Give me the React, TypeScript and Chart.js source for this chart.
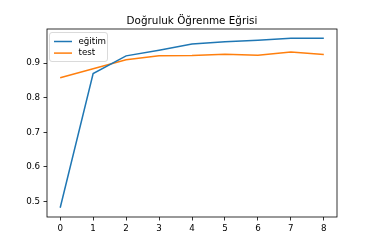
import React, { useEffect, useRef } from "react";
import { Chart, registerables } from "chart.js";

Chart.register(...registerables);

const epochs = [0, 1, 2, 3, 4, 5, 6, 7, 8];
const trainAcc = [0.482, 0.87, 0.921, 0.937, 0.955, 0.962, 0.966, 0.972, 0.972];
const testAcc = [0.858, 0.884, 0.91, 0.921, 0.922, 0.926, 0.923, 0.932, 0.925];
const xTicks = [0, 1, 2, 3, 4, 5, 6, 7, 8];
const yTicks = [0.5, 0.6, 0.7, 0.8, 0.9];
const seriesNames = ["eğitim", "test"];
const titleText = "Doğruluk Öğrenme Eğrisi";

const FONT = "'DejaVu Sans', sans-serif";
const COLORS = ["#1f77b4", "#ff7f0e"];

const framePlugin = {
  id: "frame",
  afterDraw(chart: any) {
    const { ctx, chartArea: a } = chart;
    ctx.save();
    ctx.strokeStyle = "#000";
    ctx.lineWidth = 0.8;
    ctx.strokeRect(a.left, a.top, a.right - a.left, a.bottom - a.top);
    // title
    ctx.fillStyle = "#000";
    ctx.font = `10.4px ${FONT}`;
    ctx.textAlign = "center";
    ctx.textBaseline = "alphabetic";
    ctx.fillText(titleText, (a.left + a.right) / 2, a.top - 5.5);
    // legend
    const lx = a.left + 2.5, ly = a.top + 3.5, lw = 58, lh = 29;
    ctx.beginPath();
    const r = 2.5;
    ctx.moveTo(lx + r, ly);
    ctx.lineTo(lx + lw - r, ly);
    ctx.quadraticCurveTo(lx + lw, ly, lx + lw, ly + r);
    ctx.lineTo(lx + lw, ly + lh - r);
    ctx.quadraticCurveTo(lx + lw, ly + lh, lx + lw - r, ly + lh);
    ctx.lineTo(lx + r, ly + lh);
    ctx.quadraticCurveTo(lx, ly + lh, lx, ly + lh - r);
    ctx.lineTo(lx, ly + r);
    ctx.quadraticCurveTo(lx, ly, lx + r, ly);
    ctx.closePath();
    ctx.fillStyle = "rgba(255,255,255,0.8)";
    ctx.fill();
    ctx.strokeStyle = "#d0d0d0";
    ctx.lineWidth = 0.8;
    ctx.stroke();
    ctx.font = `8.7px ${FONT}`;
    ctx.textBaseline = "middle";
    ctx.textAlign = "left";
    chart.data.datasets.forEach((ds: any, i: number) => {
      const y = ly + 9 + i * 11.6;
      ctx.strokeStyle = ds.borderColor;
      ctx.lineWidth = 1.5;
      ctx.beginPath();
      ctx.moveTo(lx + 4.5, y);
      ctx.lineTo(lx + 22.5, y);
      ctx.stroke();
      ctx.fillStyle = "#000";
      ctx.fillText(ds.label, lx + 29, y);
    });
    ctx.restore();
  },
};

export default function App() {
  const ref = useRef<HTMLCanvasElement>(null);
  useEffect(() => {
    document.body.style.margin = "0";
    const chart = new Chart(ref.current!, {
      type: "line",
      data: {
        datasets: [
          {
            label: seriesNames[0],
            data: epochs.map((e, i) => ({ x: e, y: trainAcc[i] })),
            borderColor: COLORS[0],
            backgroundColor: COLORS[0],
            borderWidth: 1.5,
            pointRadius: 0,
            tension: 0,
          },
          {
            label: seriesNames[1],
            data: epochs.map((e, i) => ({ x: e, y: testAcc[i] })),
            borderColor: COLORS[1],
            backgroundColor: COLORS[1],
            borderWidth: 1.5,
            pointRadius: 0,
            tension: 0,
          },
        ],
      },
      options: {
        animation: false,
        responsive: false,
        devicePixelRatio: 1,
        layout: { padding: { left: 0, right: 37, top: 29, bottom: 0 } },
        plugins: {
          legend: { display: false },
          tooltip: { enabled: false },
          title: { display: false },
        },
        scales: {
          x: {
            type: "linear",
            min: -0.4,
            max: 8.4,
            afterFit(s: any) {
              s.height = 32;
            },
            afterBuildTicks(s: any) {
              s.ticks = xTicks.map((v) => ({ value: v }));
            },
            grid: {
              display: true,
              drawOnChartArea: false,
              drawTicks: true,
              tickLength: 3.5,
              color: "#000",
              lineWidth: 0.8,
            },
            border: { display: false },
            ticks: {
              color: "#000",
              padding: 3,
              maxRotation: 0,
              autoSkip: false,
              font: { family: FONT, size: 8.7 },
              callback: (v: any) => String(v),
            },
          },
          y: {
            type: "linear",
            min: 0.4554,
            max: 0.9986,
            afterFit(s: any) {
              s.width = 47;
            },
            afterBuildTicks(s: any) {
              s.ticks = yTicks.map((v) => ({ value: v }));
            },
            grid: {
              display: true,
              drawOnChartArea: false,
              drawTicks: true,
              tickLength: 3.5,
              color: "#000",
              lineWidth: 0.8,
            },
            border: { display: false },
            ticks: {
              color: "#000",
              padding: 3.5,
              autoSkip: false,
              font: { family: FONT, size: 8.7 },
              callback: (v: any) => Number(v).toFixed(1),
            },
          },
        },
      },
      plugins: [framePlugin],
    });
    return () => chart.destroy();
  }, []);
  return (
    <div style={{ width: 374, height: 249, background: "#fff" }}>
      <canvas ref={ref} width={374} height={249} style={{ display: "block" }} />
    </div>
  );
}
